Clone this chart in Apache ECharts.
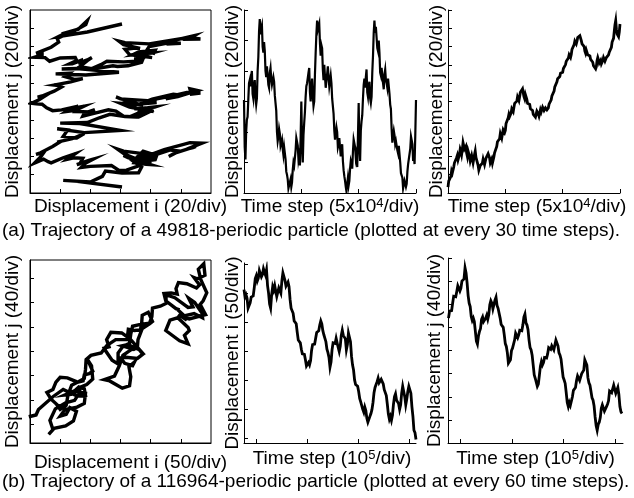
<!DOCTYPE html>
<html><head><meta charset="utf-8">
<script src="https://cdn.jsdelivr.net/npm/echarts@6/dist/echarts.min.js"></script>
<style>html,body{margin:0;padding:0;background:#fff}#c{width:634px;height:498px}</style>
</head><body><div id="c"></div><script>
// ---- (a) 49818-periodic particle: time in steps ----
const timeA = [0,625,1250,1875,2500,3125,3750,4375,5000,5625,6250,6875,7500,8125,8750,9375,
10000,10625,11250,11875,12500,13125,13750,14375,15000,15625,16250,16875,17500,18125,18750,19375,
20000,20625,21250,21875,22500,23125,23750,24375,25000,25625,26250,26875,27500,28125,28750,29375,
30000,30625,31250,31875,32500,33125,33750,34375,35000,35625,36250,36875,37500,38125,38750,39375,
40000,40625,41250,41875,42500,43125,43750,44375,45000,45625,46250,46875,47500,48125,48750,49375,
50000,50625,51250,51875,52500,53125,53750,54375,55000,55625,56250,56875,57500,58125,58750,59375,
60000,60625,61250,61875,62500,63125,63750,64375,65000,65625,66250,66875,67500,68125,68750,69375,
70000,70625,71250,71875,72500,73125,73750,74375,75000,75625,76250,76875,77500,78125,78750,79375,
80000,80625,81250,81875,82500,83125,83750,84375,85000,85625,86250,86875,87500,88125,88750,89375,
90000,90625,91250,91875,92500,93125,93750,94375,95000,95625,96250,96875,97500,98125,98750,99375,
100000,100625,101250,101875,102500,103125,103750,104375,105000,105625,106250,106875,107500,108125,108750,109375,
110000,110625,111250,111875,112500,113125,113750,114375,115000,115625,116250,116875,117500,118125,118750,119375,
120000,120625,121250,121875,122500,123125,123750,124375,125000,125625,126250,126875,127500,128125,128750,129375,
130000,130625,131250,131875,132500,133125,133750,134375,135000,135625,136250,136875,137500,138125,138750,139375,
140000,140625,141250,141875,142500,143125,143750,144375,145000,145625,146250,146875,147500,148125,148750,149375,
150000];
const dispIA = [
61,30,22,40,48,50,61,72,74,70,77,80,65,62,71,74,63,58,62,80,89,106,114,104,108,110,96,92,99,93,80,76,83,84,71,69,79,82,75,71,70,76,73,64,59,54,40,34,37,42,39,31,33,35,29,25,30,31,22,14,12,9,3,2,7,9,4,7,15,20,18,17,28,36,37,31,22,25,18,36,
60,33,20,38,46,53,63,70,72,73,79,82,66,60,69,75,64,57,60,78,92,104,113,107,106,111,98,90,97,95,81,74,84,85,69,70,78,83,76,70,71,77,72,62,57,52,41,35,36,43,40,30,32,36,30,24,28,32,21,15,11,8,4,1,6,10,5,8,16,21,19,16,27,35,36,30,23,26,17,37,
59,31,21,41,47,51,62,71,75,69,76,81,66,63,70,73,62,59,63,79,90,105,113,105,109,109,95,93,100,92,79,77,82,83,72,68,78,81,74,72,69,75,74,65,58,55,42,33,38,41,38,32,34,34,28,26,31,30,20,13,13,10,3,3,8,8,4,6,14,19,19,18,29,37,38,32,21,24,19,38,
61];
const dispJA = [
6.5,13,13.8,12,18.2,24,21.8,22,28.4,33,31.3,31,38.5,41,36.4,35,42.2,48,45.8,42,
47.3,55,54.5,48,49.5,51,43.6,40,45.8,47,40,35,36.4,41,39.3,33,32,42,45.8,39,
40,38,30.2,25,24.7,30,29.1,28,32.7,37,35.6,31,32,38,38.5,37,42.9,44,38.5,33,
34.2,37,32.7,33,39.3,44,42.2,44,50.9,56,55.6,54,59.3,65,64,60,61.8,69,70.2,66,
68.4,76,76.4,77,82.2,86,83.6,83,87.3,92,90.2,89,93.8,98,96.7,96,100.4,105,102.9,101,
105.4,110,109.1,108,113.8,112,105.4,103,107.6,108,102.5,98,98.9,100,96.7,92,93.1,94,90.2,86,
86.5,87,82.9,84,89.4,91,86.5,84,87.3,91,88.7,89,93.8,95,90.2,89,93.1,95,90.9,90,
93.1,97,97.4,98,101.8,106,104.7,106,111.3,116,117.4,118,121.4,125,125.1,124,127.3,131,130.2,129,
132,136,135.6,136,140.3,144,143.3,144,147.6,151,149.1,148,151.3,157,158.5,158,162.2,166,164.3,163,
165.8,170,168.3,168,172,171,166.5,163,163.6,164,160,155,152.7,156,154.2,151,152.7,153,149.8,146,
146.5,147,142.9,139,138.2,139,135.6,138,144.7,148,145.4,142,142.5,145,141.1,141,144.7,148,147.6,144,
143.3,148,148.4,148,150.9,154,152.7,154,159.3,165,165.8,169,176.7,184,188.4,179,173.8,175,170.9,176,
184.7];

// ---- (b) 116964-periodic particle: time in steps ----
const timeB = [0,2000,4000,6000,8000,10000,12000,14000,16000,18000,
20000,22000,24000,26000,28000,30000,32000,34000,36000,38000,
40000,42000,44000,46000,48000,50000,52000,54000,56000,58000,
60000,62000,64000,66000,68000,70000,72000,74000,76000,78000,
80000,82000,84000,86000,88000,90000,92000,94000,96000,98000,
100000,102000,104000,106000,108000,110000,112000,114000,116000,118000,
120000,122000,124000,126000,128000,130000,132000,134000,136000,138000,
140000,142000,144000,146000,148000,150000,152000,154000,156000,158000,
160000,162000,164000,166000,168000,170000,172000,174000,176000,178000,
180000,182000,184000,186000,188000,190000,192000,194000,196000,198000,
200000,202000,204000,206000,208000,210000,212000,214000,216000,218000,
220000,222000,224000,226000,228000,230000,232000,234000,236000,238000,
240000,242000,244000,246000,248000,250000,252000,254000,256000,258000,
260000,262000,264000,266000,268000,270000,272000,274000,276000,278000,
280000,282000,284000,286000,288000,290000,292000,294000,296000,298000,
300000,302000,304000,306000,308000,310000,312000,314000,316000,318000,
320000,322000,324000,326000,328000,330000,332000,334000,336000];
const dispIB = [
257,244,248,242,225,222,234,244,242,246,260,276,281,272,277,290,288,279,283,293,
287,282,291,264,251,232,225,248,262,256,264,262,245,248,260,262,251,272,286,285,
273,263,265,270,262,240,225,226,216,203,202,198,183,170,167,165,154,146,146,145,
136,125,123,131,127,134,152,162,162,163,173,183,185,186,196,203,198,186,179,178,
167,154,148,140,123,132,153,165,167,164,173,170,157,150,159,178,187,178,179,172,
153,162,182,180,167,142,127,118,101,93,92,90,81,69,63,60,50,45,54,48,
35,28,26,38,43,50,62,79,88,90,98,104,96,95,102,104,94,84,81,74,
59,42,33,38,31,40,59,72,77,66,63,60,50,58,78,90,92,72,58,68,
81,90,92,78,55,38,14,10,-2];
const dispJB = [
216,228,227,229,242,254,255,253,262,272,270,263,268,280,278,284,303,294,277,255,
242,236,219,212,216,210,193,176,171,185,193,198,214,218,210,207,216,221,214,222,
239,246,242,232,231,247,252,238,233,230,216,205,203,200,187,172,167,156,138,135,
144,160,164,166,178,190,189,182,187,195,193,194,204,218,223,208,204,196,178,165,
161,152,135,118,112,110,98,102,117,133,141,135,139,148,149,147,154,165,167,162,
168,170,161,164,178,178,168,156,152,145,129,114,109,103,87,70,63,70,65,68,
80,91,94,96,108,116,115,108,110,120,122,126,144,145,135,113,104,100,89,78,
74,64,45,30,22,32,36,44,60,66,65,55,52,63,67,73,90,93,87,88,
100,97,86,85,96,84,63,54,51];

// ---- tick positions (no labels are shown) ----
const ticksA_i2d = [20,40,60,80,100];
const ticksA_j2d = [20,40,60,80,100,120,140,160,180];
const ticksA_time = [50000,100000,150000];
const ticksA_i = [20,40,60,80,100,120];
const ticksA_j = [20,40,60,80,100,120,140,160,180,200];
const ticksB_i2d = [50,100,150,200,250];
const ticksB_j2d = [39,79,119,159,199,239,279];
const ticksB_time = [23000,123000,223000,323000];
const ticksB_i = [0,50,100,150,200,250,300];
const ticksB_j = [40,80,120,160,200,240,280,320];

// ---- texts ----
const namesX = ['Displacement i (20/div)','Time step (5x10{s|4}/div)','Time step (5x10{s|4}/div)',
                'Displacement i (50/div)','Time step (10{s|5}/div)','Time step (10{s|5}/div)'];
const namesY = ['Displacement j (20/div)','Displacement i (20/div)','Displacement j (20/div)',
                'Displacement j (40/div)','Displacement i (50/div)','Displacement j (40/div)'];
const captionA = '(a) Trajectory of a 49818-periodic particle (plotted at every 30 time steps).';
const captionB = '(b) Trajectory of a 116964-periodic particle (plotted at every 60 time steps).';

const FONT = 'Liberation Sans, Arial, Helvetica, sans-serif';
const nameStyle = (pad) => ({fontFamily: FONT, fontSize: 19, color: '#000', padding: pad || 0,
  rich: {s: {fontFamily: FONT, fontSize: 13, color: '#000', verticalAlign: 'top'}}});

function mkAxis(gi, min, max, ticks, name, gap, pad) {
  return {
    type: 'value', gridIndex: gi, min: min, max: max, name: name,
    nameLocation: 'middle', nameGap: gap, nameTextStyle: nameStyle(pad),
    nameMoveOverlap: false,
    axisLine: {show: true, onZero: false, lineStyle: {color: '#000', width: 1}},
    axisTick: {show: true, inside: true, length: 4, customValues: ticks, lineStyle: {color: '#000', width: 1}},
    axisLabel: {show: false}, splitLine: {show: false}
  };
}

const grids = [
  {left: 30, top: 10, width: 181, height: 183, show: true, borderColor: '#000', borderWidth: 1, backgroundColor: 'transparent'},
  {left: 244, top: 10, width: 172, height: 183},
  {left: 448, top: 10, width: 172, height: 183},
  {left: 30, top: 260, width: 181, height: 183, show: true, borderColor: '#000', borderWidth: 1, backgroundColor: 'transparent'},
  {left: 244, top: 263, width: 172, height: 180},
  {left: 448, top: 258, width: 175, height: 185}
].map(g => Object.assign({outerBoundsMode: 'none', containLabel: false}, g));

const xAxes = [
  mkAxis(0, 0, 120, ticksA_i2d, namesX[0], 4, [0,0,0,20]),
  mkAxis(1, 0, 150000, ticksA_time, namesX[1], 4),
  mkAxis(2, 0, 150000, ticksA_time, namesX[2], 4, [0,0,0,6]),
  mkAxis(3, 0, 300, ticksB_i2d, namesX[3], 10, [0,0,0,20]),
  mkAxis(4, 0, 336000, ticksB_time, namesX[4], 6, [0,0,0,4]),
  mkAxis(5, -1000, 338000, ticksB_time, namesX[5], 6)
];
const yAxes = [
  mkAxis(0, 0, 200, ticksA_j2d, namesY[0], 8),
  mkAxis(1, 0, 120, ticksA_i, namesY[1], 2),
  mkAxis(2, 0, 200, ticksA_j, namesY[2], 2),
  mkAxis(3, 7.8, 309.1, ticksB_j2d, namesY[3], 8),
  mkAxis(4, -8, 303, ticksB_i, namesY[4], 2),
  mkAxis(5, 0, 320, ticksB_j, namesY[5], 4)
];

function lineSeries(idx, data, w) {
  return {type: 'line', xAxisIndex: idx, yAxisIndex: idx, data: data, showSymbol: false, symbol: 'none',
    lineStyle: {color: '#000', width: w, join: 'miter'}, clip: true, animation: false, silent: true};
}

const series = [
  lineSeries(0, dispIA.map((v, k) => [v, dispJA[k]]), 3.4),
  lineSeries(1, timeA.map((t, k) => [t, dispIA[k]]), 2.2),
  lineSeries(2, timeA.map((t, k) => [t, dispJA[k]]), 2.8),
  lineSeries(3, dispIB.map((v, k) => [v, dispJB[k]]), 3.4),
  lineSeries(4, timeB.map((t, k) => [t, dispIB[k]]), 2.8),
  lineSeries(5, timeB.map((t, k) => [t, dispJB[k]]), 2.8)
];

const chart = echarts.init(document.getElementById('c'), null, {renderer: 'canvas'});
chart.setOption({
  animation: false,
  backgroundColor: '#fff',
  grid: grids, xAxis: xAxes, yAxis: yAxes, series: series,
  graphic: [
    {type: 'text', left: 2, top: 221, style: {text: captionA, font: '19px ' + FONT, fill: '#000'}},
    {type: 'text', left: 2, top: 472, style: {text: captionB, font: '19px ' + FONT, fill: '#000'}}
  ]
});
</script></body></html>
